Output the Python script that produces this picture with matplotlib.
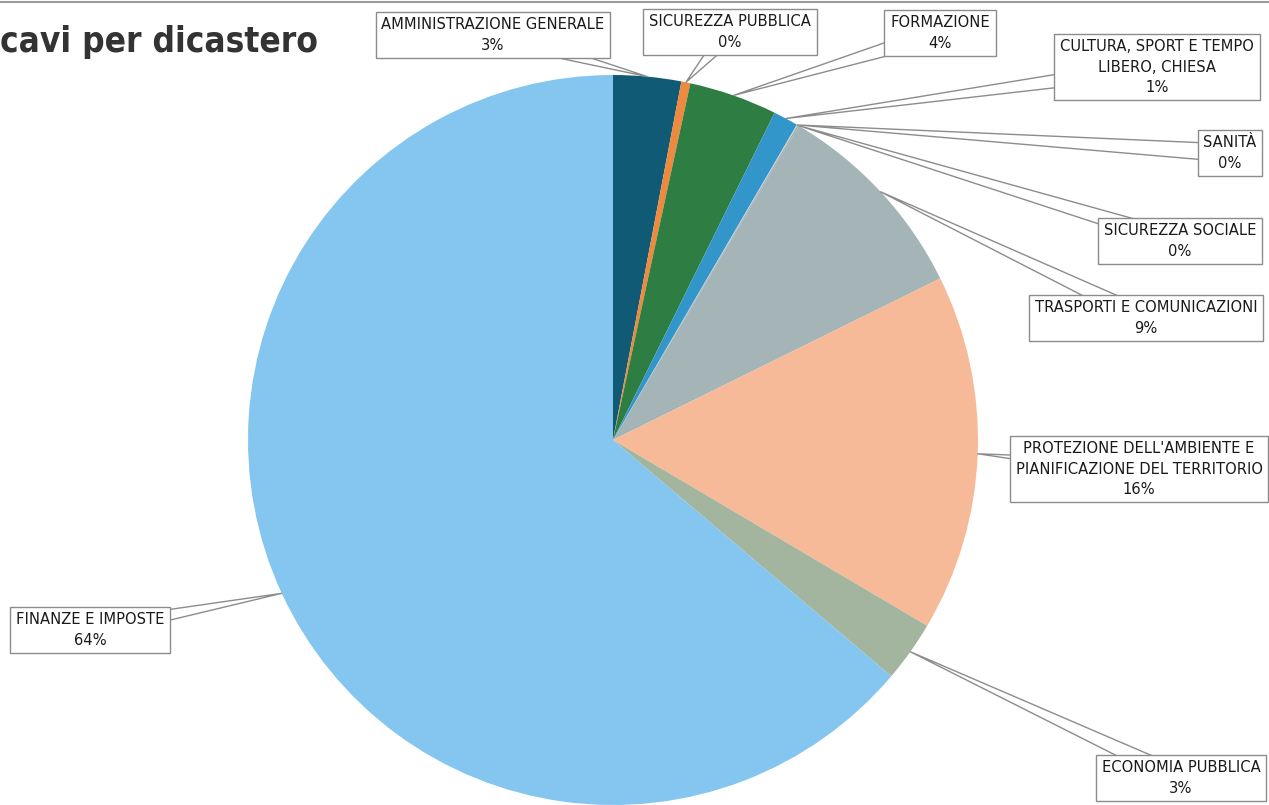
import numpy as np
import matplotlib.pyplot as plt

# -----------------------------------
# Data
# -----------------------------------
categories = [
    "AMMINISTRAZIONE GENERALE",
    "SICUREZZA PUBBLICA",
    "FORMAZIONE",
    "CULTURA, SPORT E TEMPO\nLIBERO, CHIESA",
    "SANITÀ",
    "SICUREZZA SOCIALE",
    "TRASPORTI E COMUNICAZIONI",
    "PROTEZIONE DELL'AMBIENTE E\nPIANIFICAZIONE DEL TERRITORIO",
    "ECONOMIA PUBBLICA",
    "FINANZE E IMPOSTE",
]
shares = [3.0, 0.4, 3.9, 1.1, 0.05, 0.05, 9.2, 15.8, 2.7, 63.8]
colors = [
    "#105a76", "#ee8a3e", "#2e7d42", "#3296cb", "#c9c9c9",
    "#8fa9b5", "#a4b4b7", "#f7ba98", "#a3b59f", "#84c6ef",
]

# label box centres in pixel coords (x from left, y from top)
box_pos = [
    (493, 35), (730, 32), (940, 33), (1157, 67), (1230, 153),
    (1180, 241), (1146, 318), (1139, 469), (1181, 778), (90, 630),
]

W, H = 1269, 805
fig = plt.figure(figsize=(W / 100, H / 100), dpi=100)
ax = fig.add_axes([0, 0, 1, 1])

font = ["DejaVu Sans"]

cx, cy, r = 613, H - 440, 365
wedges, _ = ax.pie(
    shares,
    colors=colors,
    startangle=90,
    counterclock=False,
    center=(cx, cy),
    radius=r,
    frame=True,
)
ax.set_xlim(0, W)
ax.set_ylim(0, H)
ax.axis("off")

# -----------------------------------
# Callout labels
# -----------------------------------
total = sum(shares)
for w, name, val, (bx, by) in zip(wedges, categories, shares, box_pos):
    theta = np.deg2rad((w.theta1 + w.theta2) / 2)
    px = cx + r * np.cos(theta)
    py = cy + r * np.sin(theta)
    ax.annotate(
        f"{name}\n{round(val / total * 100):.0f}%",
        xy=(px, py),
        xytext=(bx, H - by),
        ha="center",
        va="center",
        fontsize=11.8,
        family=font,
        fontstretch="condensed",
        color="#1a1a1a",
        linespacing=1.42,
        bbox=dict(boxstyle="square,pad=0.35", fc="white", ec="#8c8c8c", lw=1),
        arrowprops=dict(
            arrowstyle="wedge,tail_width=1.1,shrink_factor=0.5",
            fc="white",
            ec="#8c8c8c",
            lw=1,
            patchA=None,
            shrinkA=0,
            shrinkB=0,
        ),
    )

# Title (left part is cut off in the original)
fig.text(0.0, 1 - 42 / H, "cavi per dicastero", ha="left", va="center",
         fontsize=25.2, fontweight="bold", family=font, fontstretch="condensed",
         color="#333333")

# thin rule at the top
ax.axhline(H - 2, color="#9a9a9a", lw=1.5)

fig.savefig("out.png", dpi=100)
